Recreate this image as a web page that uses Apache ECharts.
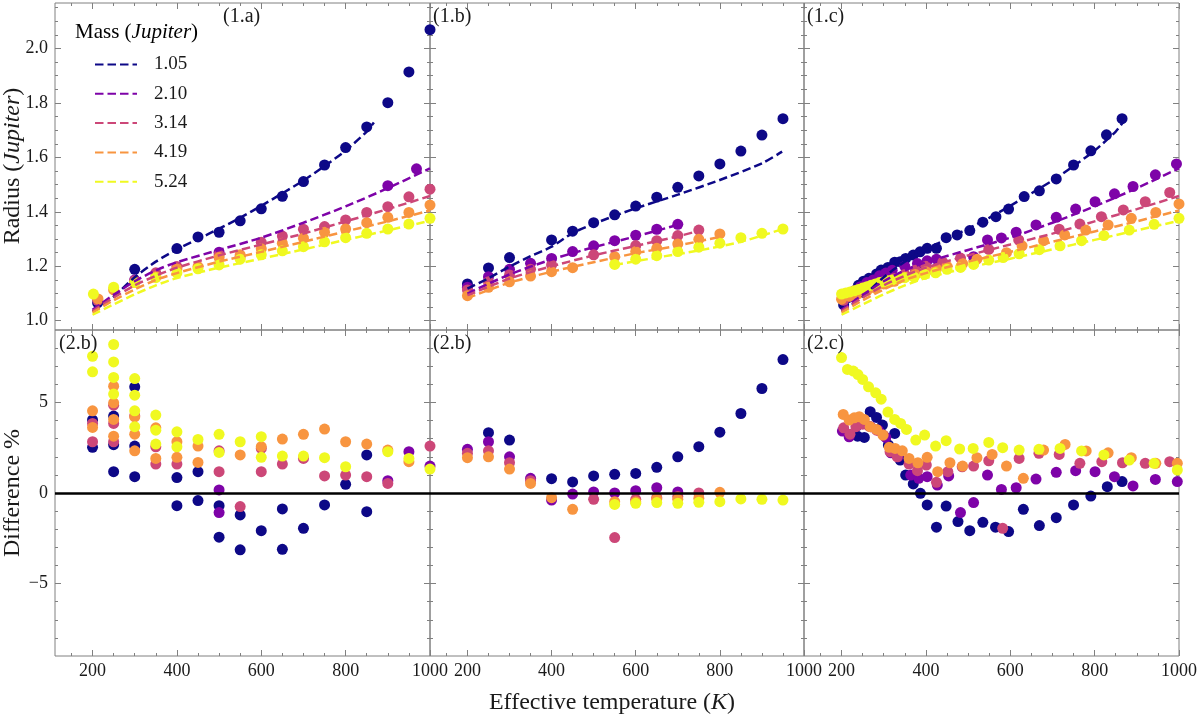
<!DOCTYPE html>
<html>
<head>
<meta charset="utf-8">
<script src="https://cdn.jsdelivr.net/npm/echarts@6/dist/echarts.min.js"></script>
<style>
html, body { margin: 0; padding: 0; background: #fff; }
#main { width: 1200px; height: 719px; }
</style>
</head>
<body>
<div id="main"></div>
<script>
// masses (Jupiter) and plasma colours
var masses = ['1.05', '2.10', '3.14', '4.19', '5.24'];
var colors = ['#0d0887', '#7e03a8', '#cc4778', '#f89540', '#f0f921'];

// ticks
var xMajor = [200, 400, 600, 800, 1000];
var xMinor = [150, 200, 250, 300, 350, 400, 450, 500, 550, 600, 650, 700, 750, 800, 850, 900, 950];
var rMajor = [1.0, 1.2, 1.4, 1.6, 1.8, 2.0];
var rMinor = [1.0, 1.05, 1.1, 1.15, 1.2, 1.25, 1.3, 1.35, 1.4, 1.45, 1.5, 1.55, 1.6, 1.65, 1.7, 1.75, 1.8, 1.85, 1.9, 1.95, 2.0, 2.05, 2.1, 2.15];
var dMajor = [-5, 0, 5];
var dMinor = [-8, -7, -6, -5, -4, -3, -2, -1, 0, 1, 2, 3, 4, 5, 6, 7, 8];

// model curves (dashed) used in panels 1.a and 1.c
var modelA_105 = [[200,1.033],[250,1.088],[300,1.16],[350,1.217],[400,1.262],[450,1.30],[500,1.338],[550,1.378],[600,1.422],[650,1.468],[700,1.515],[750,1.568],[800,1.625],[850,1.695],[867,1.728]];
var modelA_210 = [[200,1.04],[250,1.095],[300,1.145],[350,1.185],[400,1.215],[500,1.26],[600,1.305],[700,1.36],[800,1.42],[900,1.487],[1000,1.56]];
var modelA_314 = [[200,1.036],[250,1.085],[300,1.13],[350,1.165],[400,1.195],[500,1.24],[600,1.28],[700,1.32],[800,1.365],[900,1.41],[1000,1.458]];
var modelA_419 = [[200,1.03],[250,1.075],[300,1.115],[350,1.15],[400,1.175],[500,1.217],[600,1.253],[700,1.29],[800,1.328],[900,1.365],[1000,1.405]];
var modelA_524 = [[200,1.022],[250,1.06],[300,1.097],[350,1.13],[400,1.157],[500,1.195],[600,1.228],[700,1.262],[800,1.297],[900,1.332],[1000,1.367]];

// model curves, panel 1.b
var modelB_105 = [[200,1.118],[250,1.156],[300,1.199],[350,1.237],[400,1.272],[450,1.322],[500,1.356],[600,1.413],[700,1.463],[800,1.517],[900,1.578],[948,1.621]];
var modelB_210 = [[200,1.10],[300,1.17],[400,1.225],[500,1.27],[600,1.31],[700,1.352]];
var modelB_314 = [[200,1.093],[300,1.155],[400,1.20],[500,1.24],[600,1.275],[700,1.31],[750,1.33]];
var modelB_419 = [[200,1.083],[300,1.14],[400,1.18],[500,1.215],[600,1.248],[700,1.276],[800,1.308]];
var modelB_524 = [[550,1.205],[650,1.232],[750,1.258],[850,1.29],[950,1.337]];

// radius points, panel 1.a
var radA_105 = [[212,1.066],[300,1.189],[400,1.265],[450,1.308],[500,1.325],[550,1.367],[600,1.411],[650,1.457],[700,1.511],[750,1.572],[800,1.636],[850,1.712],[900,1.801],[950,1.914],[1000,2.069]];
var radA_210 = [[300,1.15],[500,1.252],[900,1.496],[968,1.558]];
var radA_314 = [[212,1.075],[300,1.147],[350,1.176],[400,1.199],[500,1.242],[550,1.236],[600,1.288],[650,1.311],[700,1.336],[750,1.346],[800,1.370],[850,1.398],[900,1.419],[950,1.455],[1000,1.483]];
var radA_419 = [[213,1.080],[250,1.113],[300,1.14],[350,1.162],[400,1.19],[450,1.199],[500,1.232],[550,1.242],[600,1.264],[650,1.285],[700,1.303],[750,1.325],[800,1.337],[850,1.360],[900,1.380],[950,1.398],[1000,1.425]];
var radA_524 = [[202,1.098],[250,1.123],[300,1.140],[350,1.158],[400,1.176],[450,1.191],[500,1.205],[550,1.226],[600,1.242],[650,1.257],[700,1.272],[750,1.290],[800,1.305],[850,1.321],[900,1.337],[950,1.355],[1000,1.376]];

// radius points, panel 1.b
var radB_105 = [[200,1.135],[250,1.194],[300,1.232],[400,1.297],[450,1.329],[500,1.360],[550,1.389],[600,1.421],[650,1.454],[700,1.490],[750,1.532],[800,1.576],[850,1.623],[900,1.682],[950,1.742]];
var radB_210 = [[200,1.123],[250,1.162],[300,1.189],[350,1.211],[400,1.229],[450,1.254],[500,1.275],[550,1.294],[600,1.314],[650,1.336],[700,1.354]];
var radB_314 = [[200,1.113],[250,1.143],[300,1.168],[350,1.189],[400,1.205],[500,1.242],[600,1.276],[650,1.294],[700,1.313],[750,1.333]];
var radB_419 = [[200,1.092],[250,1.123],[300,1.143],[350,1.164],[400,1.180],[450,1.195],[550,1.235],[600,1.254],[650,1.266],[700,1.282],[750,1.299],[800,1.319]];
var radB_524 = [[550,1.207],[600,1.226],[650,1.239],[700,1.254],[750,1.270],[800,1.285],[850,1.305],[900,1.321],[950,1.337]];

// radius points, panel 1.c
var radC_105 = [[205,1.058],[215,1.085],[225,1.105],[240,1.13],[252,1.145],[265,1.156],[283,1.172],[294,1.186],[310,1.196],[326,1.215],[339,1.217],[352,1.229],[370,1.241],[386,1.253],[403,1.266],[425,1.266],[448,1.305],[474,1.315],[504,1.331],[535,1.362],[566,1.382],[596,1.410],[633,1.456],[669,1.477],[709,1.521],[750,1.572],[791,1.624],[828,1.683],[865,1.742]];
var radC_210 = [[215,1.09],[230,1.11],[245,1.125],[260,1.14],[275,1.15],[290,1.165],[305,1.175],[320,1.185],[350,1.20],[380,1.21],[403,1.22],[425,1.226],[513,1.235],[546,1.297],[579,1.304],[614,1.325],[661,1.352],[709,1.380],[755,1.410],[801,1.437],[847,1.466],[891,1.493],[944,1.536],[994,1.576]];
var radC_314 = [[205,1.075],[225,1.09],[250,1.11],[275,1.125],[300,1.14],[325,1.155],[350,1.17],[375,1.185],[400,1.20],[440,1.215],[482,1.23],[549,1.262],[620,1.297],[716,1.336],[765,1.355],[816,1.382],[868,1.407],[920,1.437],[978,1.471]];
var radC_419 = [[200,1.079],[220,1.09],[240,1.10],[260,1.11],[280,1.12],[300,1.135],[325,1.145],[350,1.16],[375,1.17],[400,1.18],[425,1.19],[450,1.20],[487,1.21],[521,1.226],[591,1.25],[628,1.275],[679,1.294],[729,1.315],[779,1.333],[832,1.352],[887,1.376],[945,1.398],[1000,1.429]];
var radC_524 = [[200,1.098],[210,1.102],[220,1.106],[230,1.11],[240,1.115],[250,1.12],[260,1.125],[270,1.13],[280,1.135],[290,1.14],[300,1.143],[310,1.147],[320,1.15],[335,1.155],[350,1.158],[372,1.160],[397,1.17],[423,1.176],[450,1.189],[482,1.196],[513,1.207],[549,1.223],[583,1.232],[621,1.246],[669,1.261],[718,1.275],[769,1.294],[822,1.313],[882,1.333],[941,1.354],[1000,1.376]];

// difference %, panel 2.b (left)
var difA_105 = [[200,4.03],[200,2.52],[250,4.25],[250,2.67],[250,1.18],[300,5.86],[300,2.59],[300,0.9],[400,0.85],[400,-0.70],[450,1.18],[450,-0.42],[500,-0.70],[500,-2.44],[550,-1.21],[550,-3.14],[600,-2.08],[650,-0.88],[650,-3.11],[700,-1.95],[750,-0.66],[800,0.48],[850,2.10],[850,-1.03]];
var difA_210 = [[500,0.17],[500,-1.08],[900,0.68],[950,2.28],[1000,1.49]];
var difA_314 = [[200,3.84],[200,2.83],[250,4.85],[250,3.84],[250,2.83],[300,4.26],[350,2.55],[350,1.60],[400,1.6],[500,2.33],[500,1.18],[550,-0.75],[600,2.46],[600,1.18],[650,1.60],[700,1.91],[750,0.94],[800,0.99],[850,0.90],[900,0.53],[1000,2.59]];
var difA_419 = [[200,4.54],[200,3.62],[250,5.9],[250,4.98],[250,4.06],[250,3.14],[300,4.2],[300,3.25],[300,2.33],[350,3.6],[350,1.91],[400,2.83],[400,1.97],[450,2.59],[450,1.69],[550,2.10],[600,2.56],[650,2.98],[700,3.24],[750,3.53],[800,2.83],[850,2.70],[900,2.37],[950,1.73]];
var difA_524 = [[200,7.55],[200,6.69],[250,8.2],[250,7.24],[250,6.38],[250,5.46],[300,6.32],[300,5.40],[300,4.54],[300,3.66],[350,4.30],[350,3.47],[350,2.70],[400,3.38],[400,2.55],[450,2.96],[500,3.24],[500,2.24],[550,2.83],[600,3.11],[600,1.97],[650,2.04],[700,2.04],[750,1.95],[800,1.45],[900,2.28],[950,1.91],[1000,1.32]];

// difference %, panel 2.b (middle)
var difB_105 = [[250,3.33],[300,2.92],[400,0.79],[450,0.61],[500,0.94],[550,1.03],[600,1.08],[650,1.42],[700,2.0],[750,2.56],[800,3.36],[850,4.39],[900,5.77],[950,7.37]];
var difB_210 = [[200,2.41],[250,2.83],[300,2.0],[350,0.81],[400,-0.39],[450,-0.06],[500,0.06],[550,0.0],[600,0.13],[650,0.29],[700,0.06]];
var difB_314 = [[200,2.19],[250,2.33],[300,1.67],[350,0.68],[500,-0.35],[550,-2.46],[600,-0.35],[650,-0.26],[700,-0.2],[750,0.0]];
var difB_419 = [[200,1.95],[250,2.0],[300,1.32],[350,0.53],[400,-0.26],[450,-0.9],[550,-0.48],[600,-0.48],[650,-0.33],[700,-0.35],[750,-0.29],[800,0.04]];
var difB_524 = [[550,-0.63],[600,-0.57],[650,-0.53],[700,-0.57],[750,-0.51],[800,-0.48],[850,-0.33],[900,-0.35],[950,-0.39]];

// difference %, panel 2.c
var difC_105 = [[205,3.47],[222,3.2],[238,3.14],[254,3.07],[268,4.49],[283,4.17],[297,3.75],[311,2.65],[326,3.29],[339,1.82],[352,0.99],[370,0.5],[387,-0.02],[403,-0.66],[425,-1.89],[448,-0.72],[476,-1.58],[504,-2.08],[535,-1.62],[565,-1.89],[596,-2.13],[631,-0.9],[669,-1.8],[709,-1.36],[750,-0.66],[791,-0.17],[830,0.35],[865,0.63]];
var difC_210 = [[202,3.42],[218,3.1],[236,3.69],[252,3.84],[269,3.66],[287,3.47],[305,3.07],[317,2.22],[334,2.0],[364,0.99],[383,0.81],[403,0.9],[427,0.44],[454,0.94],[482,-1.08],[513,-0.53],[546,0.99],[579,0.2],[614,0.29],[661,0.77],[709,1.14],[755,1.23],[801,1.18],[847,0.90],[891,0.39],[944,0.75],[996,0.63]];
var difC_314 = [[205,3.6],[220,3.25],[234,3.66],[250,3.8],[265,3.69],[283,3.47],[299,3.2],[315,2.28],[332,2.0],[360,1.6],[380,1.23],[401,1.54],[425,0.59],[452,1.18],[486,1.45],[513,1.49],[549,1.78],[582,-1.95],[621,1.91],[668,2.19],[716,2.13],[765,1.64],[817,1.73],[866,1.67],[920,1.64],[978,1.73]];
var difC_419 = [[204,4.34],[218,4.03],[230,4.15],[242,4.21],[254,4.06],[268,3.66],[283,3.51],[298,3.2],[313,2.52],[327,2.46],[344,2.33],[360,1.91],[381,1.67],[403,1.97],[428,1.18],[457,1.67],[487,1.49],[521,1.95],[557,2.13],[591,1.49],[631,0.81],[679,2.37],[730,2.68],[780,2.32],[832,2.22],[887,1.95],[945,1.64],[996,1.64]];
var difC_524 = [[200,7.48],[214,6.82],[228,6.73],[239,6.54],[250,6.27],[264,5.86],[281,5.53],[294,5.18],[310,4.47],[326,4.06],[340,3.84],[354,3.51],[376,2.92],[397,3.2],[423,2.59],[448,2.89],[480,2.43],[512,2.46],[549,2.79],[582,2.5],[621,2.37],[668,2.41],[718,2.46],[769,2.32],[822,2.10],[882,1.82],[941,1.64],[996,1.27]];

var models = [
	[modelA_105, modelA_210, modelA_314, modelA_419, modelA_524],
	[modelB_105, modelB_210, modelB_314, modelB_419, modelB_524],
	[modelA_105, modelA_210, modelA_314, modelA_419, modelA_524]
];
var points = [
	[radA_105, radA_210, radA_314, radA_419, radA_524],
	[radB_105, radB_210, radB_314, radB_419, radB_524],
	[radC_105, radC_210, radC_314, radC_419, radC_524],
	[difA_105, difA_210, difA_314, difA_419, difA_524],
	[difB_105, difB_210, difB_314, difB_419, difB_524],
	[difC_105, difC_210, difC_314, difC_419, difC_524]
];

var frameGrey = '#808080';
var ink = '#1a1a1a';
var serif = "'Liberation Serif', 'DejaVu Serif', serif";

var colLeft = [55, 430, 804];
var colWidth = [375, 374, 375];
var rowTop = [3, 330];
var rowHeight = [327, 326];

var grids = [], xAxes = [], yAxes = [], series = [];

function tickAxis(base, pos, values, len, labels) {
	var ax = {
		gridIndex: base.gridIndex, type: 'value', min: base.min, max: base.max,
		position: pos,
		axisLine: {show: false, onZero: false},
		splitLine: {show: false},
		axisTick: {show: true, inside: true, length: len, customValues: values, lineStyle: {color: frameGrey, width: 1}},
		axisLabel: {show: false}
	};
	if (labels) {
		ax.axisLabel = {
			show: true, customValues: values, margin: labels.margin,
			fontFamily: serif, fontSize: 18, color: ink,
			formatter: labels.formatter
		};
	}
	return ax;
}

for (var g = 0; g < 6; g++) {
	var row = g < 3 ? 0 : 1, col = g % 3;
	grids.push({
		left: colLeft[col], top: rowTop[row], width: colWidth[col], height: rowHeight[row],
		show: true, borderColor: frameGrey, borderWidth: 1, backgroundColor: 'transparent'
	});
	var xb = {gridIndex: g, min: 111, max: 1000};
	xAxes.push(tickAxis(xb, 'bottom', xMajor, 6, row === 1 ? {margin: 6, formatter: function (v) { return String(v); }} : null));
	xAxes.push(tickAxis(xb, 'bottom', xMinor, 3));
	xAxes.push(tickAxis(xb, 'top', xMajor, 6));
	xAxes.push(tickAxis(xb, 'top', xMinor, 3));

	var yb = row === 0 ? {gridIndex: g, min: 0.966, max: 2.167} : {gridIndex: g, min: -9, max: 9};
	var yMaj = row === 0 ? rMajor : dMajor;
	var yMin = row === 0 ? rMinor : dMinor;
	var yFmt = row === 0 ? function (v) { return v.toFixed(1); }
		: function (v) { return v < 0 ? '\u2212' + Math.abs(v) : String(v); };
	yAxes.push(tickAxis(yb, 'left', yMaj, 6, col === 0 ? {margin: 7, formatter: yFmt} : null));
	yAxes.push(tickAxis(yb, 'left', yMin, 3));
	yAxes.push(tickAxis(yb, 'right', yMaj, 6));
	yAxes.push(tickAxis(yb, 'right', yMin, 3));
}

// model lines first so the legend picks them up
for (var p = 0; p < 3; p++) {
	for (var k = 0; k < 5; k++) {
		series.push({
			type: 'line',
			name: p === 0 ? masses[k] : masses[k] + ' ' + p,
			xAxisIndex: p * 4, yAxisIndex: p * 4,
			data: models[p][k],
			symbol: 'none', showSymbol: false,
			smooth: 0.25,
			lineStyle: {color: colors[k], width: 2.5, type: [8.5, 4]},
			itemStyle: {color: colors[k]},
			z: 4
		});
	}
}
for (var q = 0; q < 6; q++) {
	for (var k2 = 0; k2 < 5; k2++) {
		var s = {
			type: 'scatter',
			name: 'pts ' + q + ' ' + k2,
			xAxisIndex: q * 4, yAxisIndex: q * 4,
			data: points[q][k2],
			symbol: 'circle', symbolSize: 11,
			clip: false,
			itemStyle: {color: colors[k2], opacity: 1},
			z: 2 + k2 * 0.01
		};
		if (q >= 3 && k2 === 4) {
			s.markLine = {
				silent: true, symbol: 'none', animation: false,
				label: {show: false},
				lineStyle: {color: '#000', width: 2.5, type: 'solid'},
				data: [{yAxis: 0}]
			};
		}
		series.push(s);
	}
}

function label(txt, x, y, align) {
	return {
		type: 'text', x: x, y: y, z: 10,
		style: {text: txt, fontFamily: serif, fontSize: 20, fill: ink, textAlign: align || 'left', textVerticalAlign: 'middle'}
	};
}

var rich = {
	r: {fontFamily: serif, fontSize: 24, fill: ink, color: ink},
	i: {fontFamily: serif, fontSize: 24, fontStyle: 'italic', fill: ink, color: ink}
};
var richSmall = {
	r: {fontFamily: serif, fontSize: 21, color: ink},
	i: {fontFamily: serif, fontSize: 21, fontStyle: 'italic', color: ink}
};

var option = {
	backgroundColor: '#ffffff',
	animation: false,
	grid: grids,
	xAxis: xAxes,
	yAxis: yAxes,
	legend: {
		show: true,
		data: masses,
		orient: 'vertical',
		left: 94, top: 55,
		padding: 0,
		itemWidth: 42, itemHeight: 14, itemGap: 10.3,
		selectedMode: false,
		itemStyle: {color: 'rgba(0,0,0,0)', borderWidth: 0, opacity: 0},
		textStyle: {fontFamily: serif, fontSize: 19, color: ink, lineHeight: 19, padding: [0, 0, 0, 12]}
	},
	graphic: [
		label('(1.a)', 223, 17),
		label('(1.b)', 433, 17),
		label('(1.c)', 807, 17),
		label('(2.b)', 59, 344),
		label('(2.b)', 433, 344),
		label('(2.c)', 807, 344),
		{
			type: 'text', x: 75, y: 32, z: 10,
			style: {text: '{r|Mass (}{i|Jupiter}{r|)}', rich: richSmall, textAlign: 'left', textVerticalAlign: 'middle'}
		},
		{
			type: 'text', x: 612, y: 703, z: 10,
			style: {text: '{r|Effective temperature (}{i|K}{r|)}', rich: rich, textAlign: 'center', textVerticalAlign: 'middle'}
		},
		{
			type: 'text', x: 13, y: 166, z: 10, rotation: Math.PI / 2,
			style: {text: '{r|Radius (}{i|Jupiter}{r|)}', rich: rich, textAlign: 'center', textVerticalAlign: 'middle'}
		},
		{
			type: 'text', x: 13, y: 493, z: 10, rotation: Math.PI / 2,
			style: {text: 'Difference %', fontFamily: serif, fontSize: 24, fill: ink, textAlign: 'center', textVerticalAlign: 'middle'}
		}
	],
	series: series
};

var chart = echarts.init(document.getElementById('main'));
chart.setOption(option);
</script>
</body>
</html>
